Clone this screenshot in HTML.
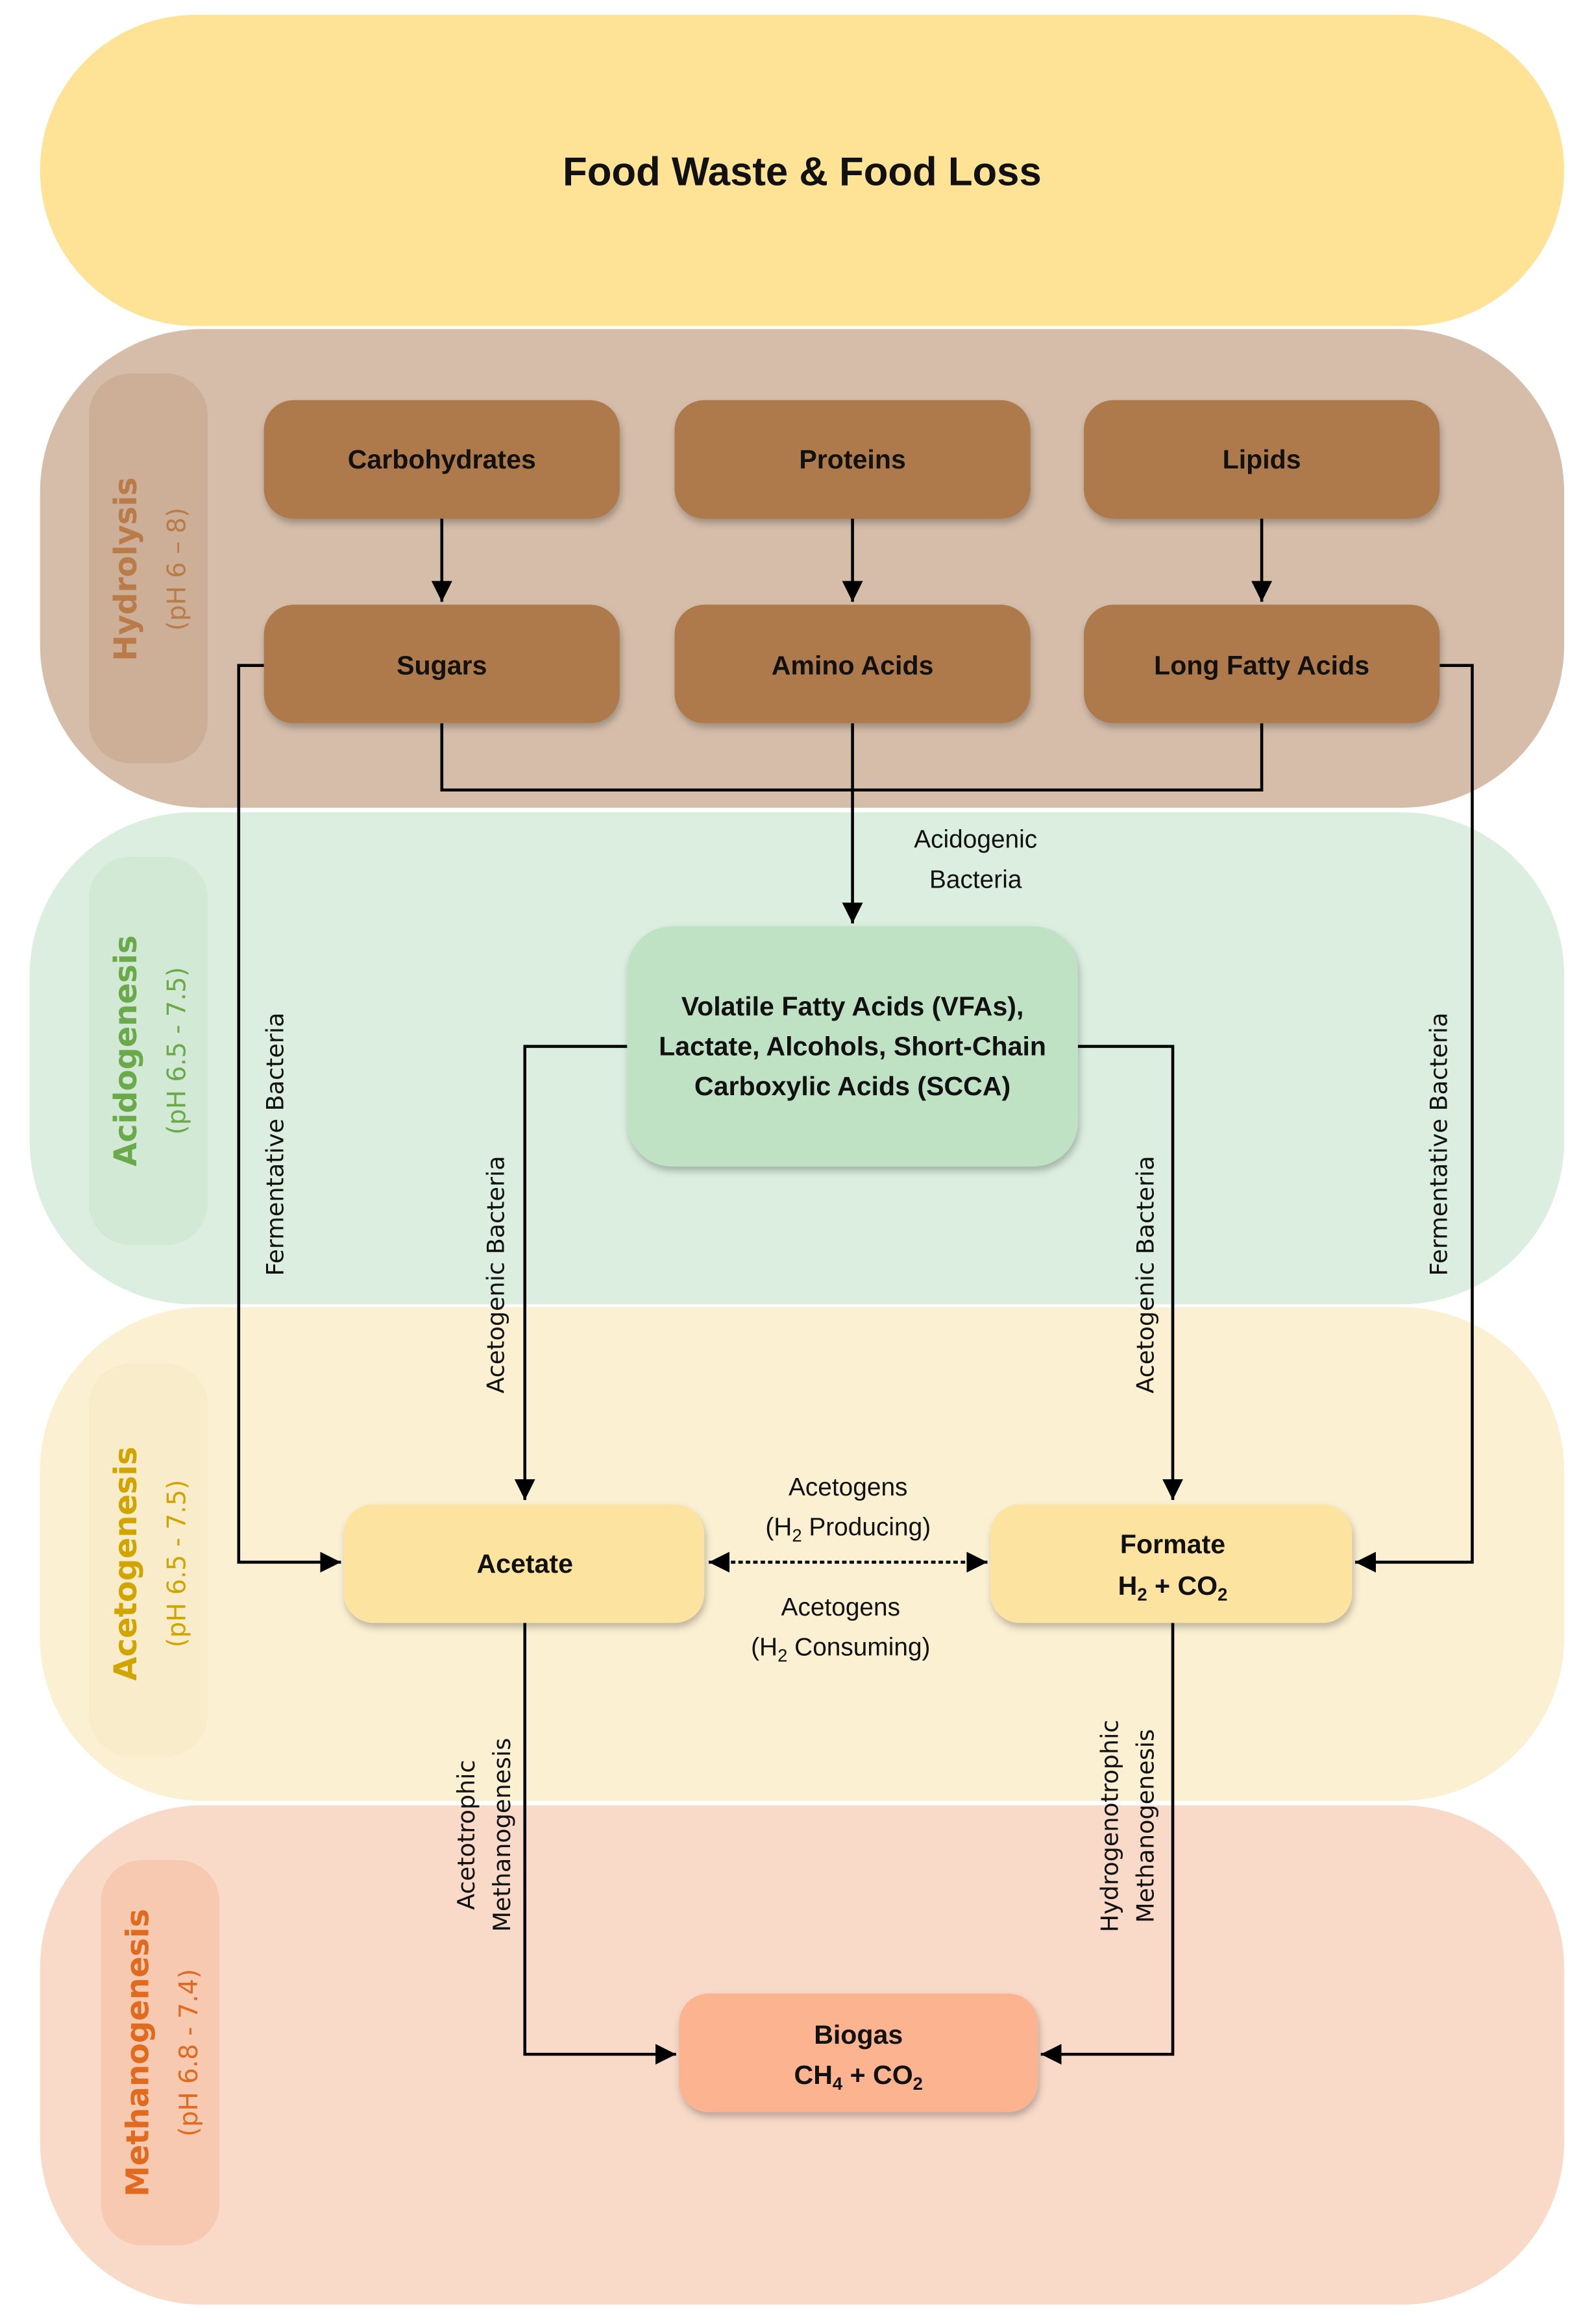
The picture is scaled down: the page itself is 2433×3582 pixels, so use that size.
<!DOCTYPE html>
<html><head><meta charset="utf-8"><style>
html,body{margin:0;padding:0;background:#fff}
svg{display:block}
.b{font-family:"Liberation Sans",sans-serif;font-weight:bold;font-size:18px;fill:#111;text-anchor:middle}
.n{font-family:"Liberation Sans",sans-serif;font-size:17px;fill:#111;text-anchor:middle}
.v{font-family:"DejaVu Sans",sans-serif;font-size:16px;fill:#111;text-anchor:middle}
.st{font-family:"DejaVu Sans",sans-serif;font-weight:bold;font-size:21px;text-anchor:middle}
.ph{font-family:"DejaVu Sans",sans-serif;font-size:17px;text-anchor:middle}
</style></head><body>
<svg width="2433" height="3582" viewBox="0 0 1065 1568" preserveAspectRatio="none" xmlns="http://www.w3.org/2000/svg">
<defs>
<filter id="sh" x="-10%" y="-10%" width="130%" height="140%"><feDropShadow dx="1" dy="3" stdDeviation="2.5" flood-color="#000" flood-opacity="0.25"/></filter>
<marker id="ar" viewBox="0 0 10 10" refX="10" refY="5" markerWidth="7" markerHeight="7" orient="auto-start-reverse"><path d="M0,0 L10,5 L0,10 z" fill="#000"/></marker>
</defs>
<rect width="1083" height="1568" fill="#fff"/>
<rect x="27" y="10" width="1028" height="210" rx="105" fill="#fee397"/>
<rect x="27" y="222" width="1028" height="323" rx="110" fill="#d5bdaa"/>
<rect x="20" y="548" width="1035" height="332" rx="110" fill="#dbeedf"/>
<rect x="27" y="882" width="1028" height="333" rx="110" fill="#fbf0d2"/>
<rect x="27" y="1218" width="1028" height="337" rx="110" fill="#f9dac9"/>
<rect x="60" y="252" width="80" height="263" rx="28" fill="#cdae96"/>
<rect x="60" y="578" width="80" height="262" rx="28" fill="#d2e9d5"/>
<rect x="60" y="920" width="80" height="265" rx="28" fill="#f8eccb"/>
<rect x="68" y="1255" width="80" height="260" rx="28" fill="#f8c9b1"/>
<g transform="translate(92,384) rotate(-90)"><text class="st" fill="#b97c48" x="0" y="0">Hydrolysis</text><text class="ph" fill="#b97c48" x="0" y="33">(pH 6 – 8)</text></g>
<g transform="translate(92,709) rotate(-90)"><text class="st" fill="#6aaa4a" x="0" y="0">Acidogenesis</text><text class="ph" fill="#6aaa4a" x="0" y="33">(pH 6.5 - 7.5)</text></g>
<g transform="translate(92,1055) rotate(-90)"><text class="st" fill="#d2a400" x="0" y="0">Acetogenesis</text><text class="ph" fill="#d2a400" x="0" y="33">(pH 6.5 - 7.5)</text></g>
<g transform="translate(100,1385) rotate(-90)"><text class="st" fill="#e06a1e" x="0" y="0">Methanogenesis</text><text class="ph" fill="#e06a1e" x="0" y="33">(pH 6.8 - 7.4)</text></g>
<text class="b" x="541" y="125" style="font-size:27px">Food Waste &amp; Food Loss</text>
<g stroke="#000" stroke-width="2" fill="none">
<line x1="298" y1="350" x2="298" y2="406" marker-end="url(#ar)"/>
<line x1="575" y1="350" x2="575" y2="406" marker-end="url(#ar)"/>
<line x1="851" y1="350" x2="851" y2="406" marker-end="url(#ar)"/>
<polyline points="298,488 298,533 851,533 851,488"/>
<line x1="575" y1="488" x2="575" y2="623" marker-end="url(#ar)"/>
<polyline points="178,449 161,449 161,1054 230,1054" marker-end="url(#ar)"/>
<polyline points="971,449 993,449 993,1054 914,1054" marker-end="url(#ar)"/>
<polyline points="423,706 354,706 354,1012" marker-end="url(#ar)"/>
<polyline points="727,706 791,706 791,1012" marker-end="url(#ar)"/>
<line x1="478" y1="1054" x2="666" y2="1054" stroke-dasharray="3,2" marker-start="url(#ar)" marker-end="url(#ar)"/>
<polyline points="354,1095 354,1386 456,1386" marker-end="url(#ar)"/>
<polyline points="791,1095 791,1386 702,1386" marker-end="url(#ar)"/>
</g>
<g filter="url(#sh)">
<rect x="178" y="270" width="240" height="80" rx="20" fill="#ae7a4b"/>
<rect x="455" y="270" width="240" height="80" rx="20" fill="#ae7a4b"/>
<rect x="731" y="270" width="240" height="80" rx="20" fill="#ae7a4b"/>
<rect x="178" y="408" width="240" height="80" rx="20" fill="#ae7a4b"/>
<rect x="455" y="408" width="240" height="80" rx="20" fill="#ae7a4b"/>
<rect x="731" y="408" width="240" height="80" rx="20" fill="#ae7a4b"/>
<rect x="423" y="625" width="304" height="162" rx="30" fill="#bfe1c4"/>
<rect x="232" y="1015" width="243" height="80" rx="20" fill="#fde3a0"/>
<rect x="668" y="1015" width="244" height="80" rx="20" fill="#fde3a0"/>
<rect x="458" y="1345" width="242" height="80" rx="20" fill="#fbb48f"/>
</g>
<text class="b" x="298" y="316">Carbohydrates</text>
<text class="b" x="575" y="316">Proteins</text>
<text class="b" x="851" y="316">Lipids</text>
<text class="b" x="298" y="455">Sugars</text>
<text class="b" x="575" y="455">Amino Acids</text>
<text class="b" x="851" y="455">Long Fatty Acids</text>
<text class="b" x="575" y="685">Volatile Fatty Acids (VFAs),</text>
<text class="b" x="575" y="712">Lactate, Alcohols, Short-Chain</text>
<text class="b" x="575" y="739">Carboxylic Acids (SCCA)</text>
<text class="b" x="354" y="1061">Acetate</text>
<text class="b" x="791" y="1048">Formate</text>
<text class="b" x="791" y="1076">H<tspan font-size="12" dy="4">2</tspan><tspan dy="-4"> + CO</tspan><tspan font-size="12" dy="4">2</tspan></text>
<text class="b" x="579" y="1379">Biogas</text>
<text class="b" x="579" y="1406">CH<tspan font-size="12" dy="4">4</tspan><tspan dy="-4"> + CO</tspan><tspan font-size="12" dy="4">2</tspan></text>
<text class="n" x="658" y="572">Acidogenic</text>
<text class="n" x="658" y="599">Bacteria</text>
<text class="n" x="572" y="1009">Acetogens</text>
<text class="n" x="572" y="1036">(H<tspan font-size="12" dy="4">2</tspan><tspan dy="-4"> Producing)</tspan></text>
<text class="n" x="567" y="1090">Acetogens</text>
<text class="n" x="567" y="1117">(H<tspan font-size="12" dy="4">2</tspan><tspan dy="-4"> Consuming)</tspan></text>
<text class="v" transform="translate(191,772) rotate(-90)">Fermentative Bacteria</text>
<text class="v" transform="translate(976,772) rotate(-90)">Fermentative Bacteria</text>
<text class="v" transform="translate(340,860) rotate(-90)">Acetogenic Bacteria</text>
<text class="v" transform="translate(778,860) rotate(-90)">Acetogenic Bacteria</text>
<text class="v" transform="translate(320,1238) rotate(-90)">Acetotrophic</text>
<text class="v" transform="translate(344,1238) rotate(-90)">Methanogenesis</text>
<text class="v" transform="translate(754,1232) rotate(-90)">Hydrogenotrophic</text>
<text class="v" transform="translate(778,1232) rotate(-90)">Methanogenesis</text>
</svg>
</body></html>
